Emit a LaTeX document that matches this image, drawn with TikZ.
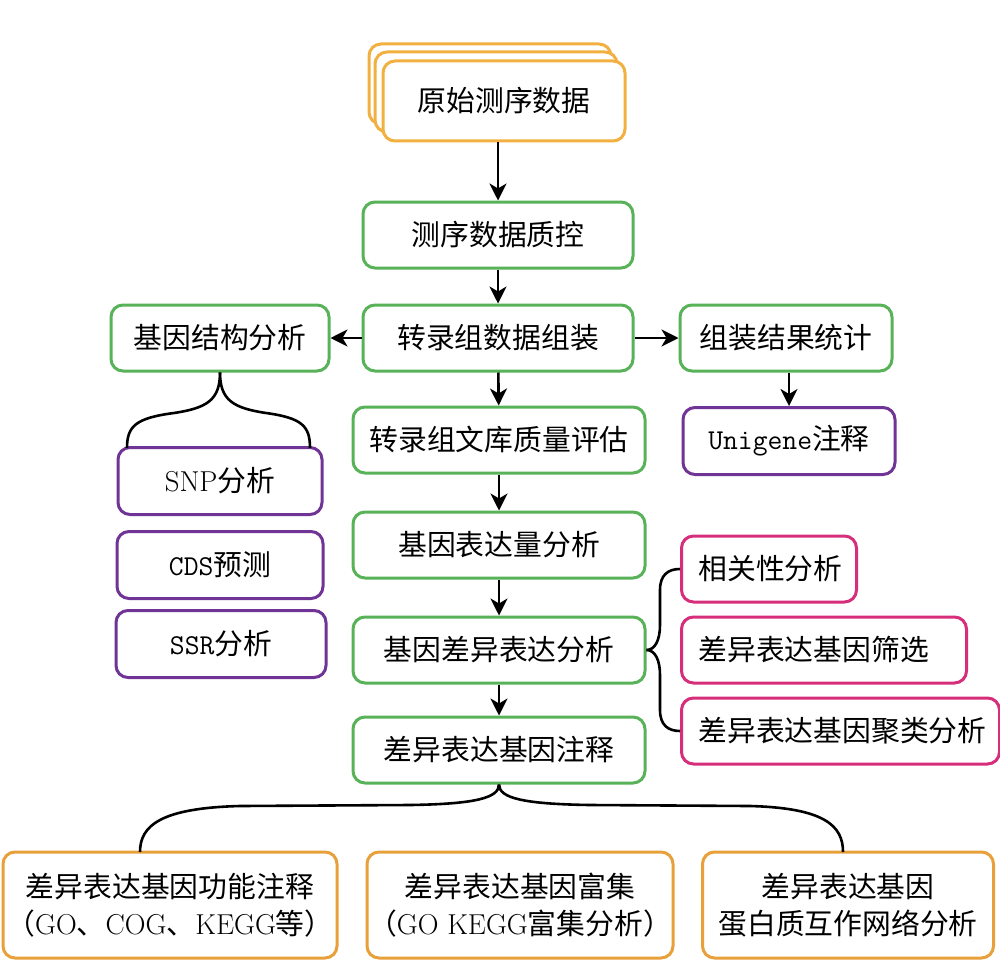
\documentclass[tikz,border=0pt]{standalone}
\usepackage{fontspec}
\usepackage{tikz}
\usetikzlibrary{arrows.meta}
\newfontfamily\zh{Noto Sans CJK SC}
\definecolor{flowgreen}{RGB}{88,178,88}
\definecolor{floworange}{RGB}{232,160,58}
\definecolor{rawyellow}{RGB}{242,176,64}
\definecolor{flowpurple}{RGB}{112,52,150}
\definecolor{flowpink}{RGB}{214,46,122}
\tikzset{
  stagebox/.style={draw, line width=3pt, rounded corners=12pt, fill=white,
    align=center, inner sep=0pt, font={\zh\fontsize{28.8}{37}\selectfont}},
  greenbox/.style={stagebox, draw=flowgreen, minimum height=66pt},
  purplebox/.style={stagebox, draw=flowpurple, minimum height=67pt},
  pinkbox/.style={stagebox, draw=flowpink, anchor=west, align=left, inner xsep=17pt, minimum height=66pt},
  orangebox/.style={stagebox, draw=floworange, minimum height=106pt},
  rawbox/.style={stagebox, draw=rawyellow, minimum width=242pt, minimum height=80pt},
  flowarrow/.style={line width=2.6pt, -{Stealth[length=17pt,width=17pt,inset=5pt]}},
  bracket/.style={line width=2.6pt},
}

\begin{document}
\begin{tikzpicture}[x=1pt,y=-1pt]
\useasboundingbox[fill=white] (0,0) rectangle (1000,960);

% raw data, three stacked cards
\node[rawbox] (raw3) at (490,84) {};
\node[rawbox] (raw2) at (496,92) {};
\node[rawbox] (raw) at (504,101) {原始测序数据};

% main column
\node[greenbox, minimum width=270pt] (qc) at (498,235) {测序数据质控};
\node[greenbox, minimum width=270pt] (asm) at (498,338) {转录组数据组装};
\node[greenbox, minimum width=292pt] (lib) at (499,440) {转录组文库质量评估};
\node[greenbox, minimum width=292pt] (expr) at (499,545) {基因表达量分析};
\node[greenbox, minimum width=292pt] (deg) at (499,650) {基因差异表达分析};
\node[greenbox, minimum width=292pt] (ann) at (499,750) {差异表达基因注释};

% left branch
\node[greenbox, minimum width=218pt] (struct) at (220,338) {基因结构分析};
\node[purplebox, minimum width=204pt] (snp) at (220,481) {{\rmfamily SNP}分析};
\node[purplebox, minimum width=206pt] (cds) at (220,565) {{\ttfamily CDS}预测};
\node[purplebox, minimum width=210pt] (ssr) at (221,644) {{\ttfamily SSR}分析};

% right branch
\node[greenbox, minimum width=212pt] (stat) at (786,338) {组装结果统计};
\node[purplebox, minimum width=212pt] (uni) at (789,441) {{\ttfamily Unigene}注释};

% differential expression outputs
\node[pinkbox, text width=141pt] (cor) at (680,569) {相关性分析};
\node[pinkbox, text width=251pt] (filt) at (680,650) {差异表达基因筛选};
\node[pinkbox, text width=284pt] (clust) at (680,731) {差异表达基因聚类分析};

% annotation outputs
\node[orangebox, minimum width=334pt] (func) at (170,905) {差异表达基因功能注释\\（{\rmfamily GO}、{\rmfamily COG}、{\rmfamily KEGG}等）};
\node[orangebox, minimum width=306pt] (enrich) at (520,905) {差异表达基因富集\\（{\rmfamily GO KEGG}富集分析）};
\node[orangebox, minimum width=291pt] (ppi) at (848,905) {差异表达基因\\蛋白质互作网络分析};

% arrows
\draw[flowarrow] (raw.south -| qc.north) -- (qc);
\draw[flowarrow] (qc) -- (asm);
\draw[flowarrow] (asm) -- (struct);
\draw[flowarrow] (asm) -- (stat);
\draw[flowarrow] (stat.south -| uni.north) -- (uni);
\draw[flowarrow] (asm) -- (lib);
\draw[flowarrow] (lib) -- (expr);
\draw[flowarrow] (expr) -- (deg);
\draw[flowarrow] (deg) -- (ann);

% braces
\coordinate (snpl) at (127,448);
\coordinate (snpr) at (310,448);
\draw[bracket] (struct.south) .. controls (220,400) and (207,408) .. (174,413)
  .. controls (136,418) and (127,426) .. (snpl);
\draw[bracket] (struct.south) .. controls (220,400) and (233,408) .. (266,413)
  .. controls (302,418) and (310,426) .. (snpr);

\draw[bracket] (deg.east) .. controls (655,650) and (660,640) .. (660,625) -- (660,590)
  .. controls (660,575) and (668,569) .. (cor.west);
\draw[bracket] (deg.east) .. controls (655,650) and (660,660) .. (660,675) -- (660,710)
  .. controls (660,725) and (668,731) .. (clust.west);

\coordinate (funcl) at (140,852);
\coordinate (ppir) at (843,852);
\draw[bracket] (ann.south) .. controls (499,798) and (475,804) .. (410,805) -- (240,806)
  .. controls (160,808) and (140,826) .. (funcl);
\draw[bracket] (ann.south) .. controls (499,798) and (523,804) .. (590,805) -- (750,806)
  .. controls (825,808) and (843,826) .. (ppir);
\end{tikzpicture}
\end{document}
